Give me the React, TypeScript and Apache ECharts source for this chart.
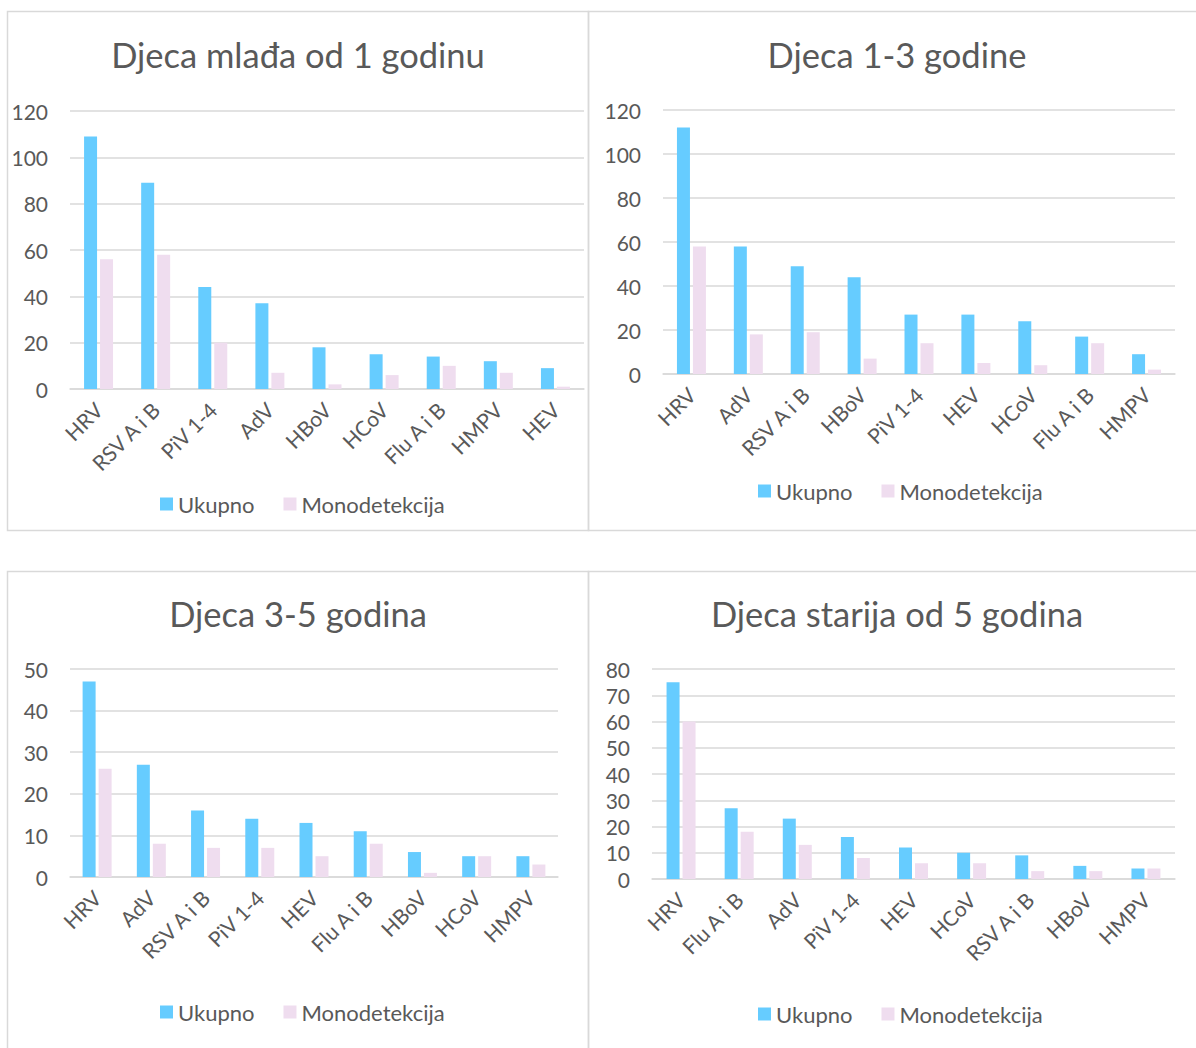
import React, { useEffect, useRef } from "react";
import * as echarts from "echarts";

const seriesNames = ["Ukupno", "Monodetekcija"];

const titles = [
  "Djeca mlađa od 1 godinu",
  "Djeca 1-3 godine",
  "Djeca 3-5 godina",
  "Djeca starija od 5 godina",
];

const cats1 = ["HRV", "RSV A i B", "PiV 1-4", "AdV", "HBoV", "HCoV", "Flu A i B", "HMPV", "HEV"];
const total1 = [109, 89, 44, 37, 18, 15, 14, 12, 9];
const mono1 = [56, 58, 20, 7, 2, 6, 10, 7, 1];

const cats2 = ["HRV", "AdV", "RSV A i B", "HBoV", "PiV 1-4", "HEV", "HCoV", "Flu A i B", "HMPV"];
const total2 = [112, 58, 49, 44, 27, 27, 24, 17, 9];
const mono2 = [58, 18, 19, 7, 14, 5, 4, 14, 2];

const cats3 = ["HRV", "AdV", "RSV A i B", "PiV 1-4", "HEV", "Flu A i B", "HBoV", "HCoV", "HMPV"];
const total3 = [47, 27, 16, 14, 13, 11, 6, 5, 5];
const mono3 = [26, 8, 7, 7, 5, 8, 1, 5, 3];

const cats4 = ["HRV", "Flu A i B", "AdV", "PiV 1-4", "HEV", "HCoV", "RSV A i B", "HBoV", "HMPV"];
const total4 = [75, 27, 23, 16, 12, 10, 9, 5, 4];
const mono4 = [60, 18, 13, 8, 6, 6, 3, 3, 4];

const yMax = [120, 120, 50, 80];
const yInterval = [20, 20, 10, 10];

const FONT = "Lato";
const TXT = "#595959";
const GRID = "#D9D9D9";
const BLUE = "#66CCFF";
const PINK = "#EFDDEF";

export default function App() {
  const ref = useRef<HTMLDivElement>(null);
  useEffect(() => {
    if (!ref.current) return;
    const chart = echarts.init(ref.current, null, { renderer: "svg" });

    const cats = [cats1, cats2, cats3, cats4];
    const totals = [total1, total2, total3, total4];
    const monos = [mono1, mono2, mono3, mono4];

    const grids = [
      { left: 70, top: 111, width: 514, height: 278 },
      { left: 663, top: 110, width: 512, height: 264 },
      { left: 70, top: 669, width: 488, height: 208 },
      { left: 652, top: 669, width: 523, height: 210 },
    ];
    const titlePos = [
      { x: 298, y: 37 },
      { x: 897, y: 37 },
      { x: 298, y: 596 },
      { x: 897, y: 596 },
    ];
    const legendPos = [
      { left: 160, top: 493 },
      { left: 758, top: 480 },
      { left: 160, top: 1001 },
      { left: 758, top: 1003 },
    ];

    const option: any = {
      animation: false,
      backgroundColor: "#ffffff",
      textStyle: { fontFamily: FONT },
      title: titles.map((t, i) => ({
        text: t,
        left: titlePos[i].x,
        top: titlePos[i].y,
        textAlign: "center",
        padding: 0,
        textStyle: { fontFamily: FONT, fontSize: 34.5, fontWeight: "normal", color: TXT },
      })),
      legend: legendPos.map((p) => ({
        data: seriesNames,
        left: p.left,
        top: p.top,
        padding: 0,
        itemWidth: 13,
        itemHeight: 13,
        itemGap: 29,
        icon: "rect",
        textStyle: { fontFamily: FONT, fontSize: 22, color: TXT, padding: [0, 0, 0, 0] },
      })),
      grid: grids.map((g) => ({ ...g, containLabel: false })),
      xAxis: cats.map((c, i) => ({
        type: "category",
        gridIndex: i,
        data: c,
        axisTick: { show: false },
        axisLine: { show: true, lineStyle: { color: GRID, width: 1.5 } },
        axisLabel: {
          interval: 0,
          rotate: 45,
          margin: 17,
          fontFamily: FONT,
          fontSize: 21,
          color: TXT,
        },
      })),
      yAxis: yMax.map((m, i) => ({
        type: "value",
        gridIndex: i,
        min: 0,
        max: m,
        interval: yInterval[i],
        axisLine: { show: false },
        axisTick: { show: false },
        splitLine: { lineStyle: { color: GRID, width: 1.5 } },
        axisLabel: { margin: 22, fontFamily: FONT, fontSize: 21, color: TXT },
      })),
      series: [] as any[],
      graphic: [
        { type: "rect", shape: { x: 7.5, y: 11.5, width: 581, height: 519 }, style: { fill: "none", stroke: GRID, lineWidth: 1.5 }, silent: true },
        { type: "rect", shape: { x: 588.5, y: 11.5, width: 620, height: 519 }, style: { fill: "none", stroke: GRID, lineWidth: 1.5 }, silent: true },
        { type: "rect", shape: { x: 7.5, y: 571.5, width: 581, height: 500 }, style: { fill: "none", stroke: GRID, lineWidth: 1.5 }, silent: true },
        { type: "rect", shape: { x: 588.5, y: 571.5, width: 620, height: 500 }, style: { fill: "none", stroke: GRID, lineWidth: 1.5 }, silent: true },
      ],
    };

    for (let i = 0; i < 4; i++) {
      option.series.push({
        type: "bar",
        name: seriesNames[0],
        xAxisIndex: i,
        yAxisIndex: i,
        data: totals[i],
        barWidth: 13,
        barGap: "23%",
        itemStyle: { color: BLUE },
      });
      option.series.push({
        type: "bar",
        name: seriesNames[1],
        xAxisIndex: i,
        yAxisIndex: i,
        data: monos[i],
        barWidth: 13,
        barGap: "23%",
        itemStyle: { color: PINK },
      });
    }

    chart.setOption(option);
    return () => chart.dispose();
  }, []);

  return (
    <div
      ref={ref}
      style={{ position: "absolute", left: 0, top: 0, width: 1196, height: 1048 }}
    />
  );
}
